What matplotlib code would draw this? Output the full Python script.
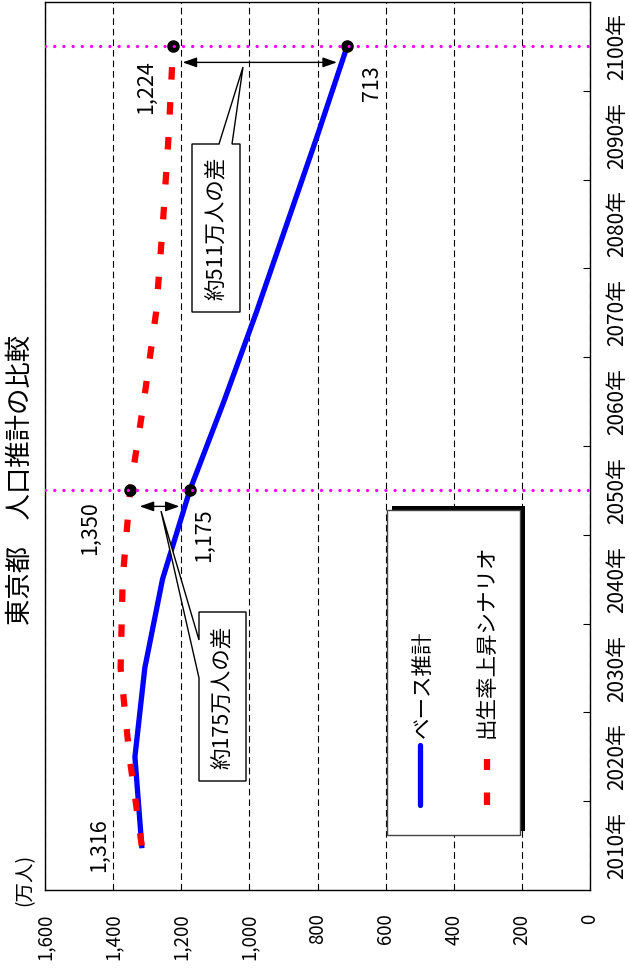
import matplotlib
matplotlib.use("Agg")
import matplotlib.pyplot as plt
from matplotlib.lines import Line2D
from matplotlib.patches import Polygon, Rectangle

plt.rcParams["font.family"] = ["Noto Sans CJK JP", "DejaVu Sans"]

W, H = 629, 973

# data (万人)
years = [2010, 2020, 2030, 2040, 2050, 2060, 2070, 2080, 2090, 2100]
year_labels = [f"{y}年" for y in years]
base = [1316, 1336, 1307, 1255, 1175, 1075, 980, 890, 800, 713]
high = [1316, 1352, 1378, 1372, 1350, 1310, 1274, 1254, 1237, 1224]
value_ticks = [0, 200, 400, 600, 800, 1000, 1200, 1400, 1600]
marked_years = [2050, 2100]
series_names = ["ベース推計", "出生率上昇シナリオ"]
title = "東京都　人口推計の比較"
unit = "(万人)"


def fx(x, y):
    # image pixel -> figure fraction
    return (x / W, 1 - y / H)


fig = plt.figure(figsize=(W / 100, H / 100), dpi=100)
ax = fig.add_axes([45 / W, 1 - 890 / H, 545 / W, 888 / H])

pos = list(range(len(years)))
ax.plot(base, pos, color="#0000ff", lw=3.8, solid_joinstyle="miter", zorder=3)
ax.plot(high, pos, color="#ff0000", lw=4.5, linestyle=(0, (2.0, 3.6)),
        dash_capstyle="butt", zorder=4)

for yr in marked_years:
    i = years.index(yr)
    ax.plot([high[i], base[i]], [i, i], "o", color="black", ms=8, zorder=5)
    ax.axhline(i, color="#ff00ff", lw=2.4, linestyle=(0, (0.01, 2.75)),
               dash_capstyle="round", zorder=6)
    # double arrow between the two scenarios
    ax.annotate("", xy=(high[i] - 28, i - 0.18), xytext=(base[i] + 30, i - 0.18),
                arrowprops=dict(arrowstyle="<|-|>,head_length=0.85,head_width=0.3",
                                color="black", lw=1, shrinkA=0, shrinkB=0,
                                mutation_scale=10), zorder=7)

# value labels
lab_kw = dict(textcoords="offset pixels", rotation=90, ha="center", va="center",
              fontsize=15.5, zorder=8)
ax.annotate(f"{high[0]:,}", xy=(high[0], 0), xytext=(-43, 0), **lab_kw)
i50, i00 = years.index(2050), years.index(2100)
ax.annotate(f"{high[i50]:,}", xy=(high[i50], i50), xytext=(-40, -38), **lab_kw)
ax.annotate(f"{base[i50]:,}", xy=(base[i50], i50), xytext=(14, -45), **lab_kw)
ax.annotate(f"{high[i00]:,}", xy=(high[i00], i00), xytext=(-27, -41), **lab_kw)
ax.annotate(f"{base[i00]:,}", xy=(base[i00], i00), xytext=(25, -37), **lab_kw)

ax.set_xlim(1600, 0)
ax.set_ylim(-0.5, len(years) - 0.5)
ax.set_xticks(value_ticks)
ax.set_xticklabels([f"{v:,}" for v in value_ticks], rotation=90, fontsize=13.5)
ax.tick_params(axis="x", length=0, pad=17)
ax.grid(axis="x", color="black", lw=0.8, linestyle=(0, (6, 3.5)))
ax.grid(axis="y", visible=False)

ax.yaxis.tick_right()
ax.set_yticks(pos)
ax.set_yticklabels(year_labels, rotation=90, va="center", fontsize=15)
ax.set_yticks([p + 0.5 for p in pos[:-1]], minor=True)
ax.tick_params(axis="y", which="major", length=0, pad=12)
ax.tick_params(axis="y", which="minor", direction="in", length=5, width=0.8,
               right=True, left=False)
for s in ax.spines.values():
    s.set_linewidth(1)
    s.set_color("black")

# title and unit
fig.text(*fx(20, 480), title, rotation=90, ha="center", va="center", fontsize=19)
fig.text(*fx(25, 880), unit, rotation=90, ha="center", va="center", fontsize=14)

# callouts
call_511 = [(192, 144), (219, 144), (243, 67), (232, 144), (240, 144),
            (240, 312), (192, 312)]
call_175 = [(199, 612), (246, 612), (246, 781), (199, 781), (199, 678),
            (161, 511), (199, 640)]
for pts, i, c in [(call_511, i00, (216, 228)), (call_175, i50, (222, 697))]:
    fig.add_artist(Polygon([fx(*p) for p in pts], closed=True, transform=fig.transFigure,
                           facecolor="white", edgecolor="black", lw=1))
    fig.text(*fx(*c), f"約{high[i] - base[i]}万人の差", rotation=90,
             ha="center", va="center", fontsize=15.5)

# legend
fig.add_artist(Rectangle(fx(392, 831), 133 / W, 325 / H, transform=fig.transFigure,
                         facecolor="black", edgecolor="none"))
fig.add_artist(Rectangle(fx(387, 835), 133 / W, 325 / H, transform=fig.transFigure,
                         facecolor="white", edgecolor="#444444", lw=1))
fig.add_artist(Line2D([420 / W, 420 / W], [1 - 805 / H, 1 - 745 / H],
                      transform=fig.transFigure, color="#0000ff", lw=3.8,
                      solid_capstyle="round"))
fig.add_artist(Line2D([487 / W, 487 / W], [1 - 805 / H, 1 - 759 / H],
                      transform=fig.transFigure, color="#ff0000", lw=4.5,
                      linestyle=(0, (2.0, 3.6)), dash_capstyle="butt"))
fig.text(*fx(423, 738), series_names[0], rotation=90, ha="center", va="bottom",
         fontsize=15.5)
fig.text(*fx(487, 738), series_names[1], rotation=90, ha="center", va="bottom",
         fontsize=15.5)

fig.savefig("out.png", dpi=100)
